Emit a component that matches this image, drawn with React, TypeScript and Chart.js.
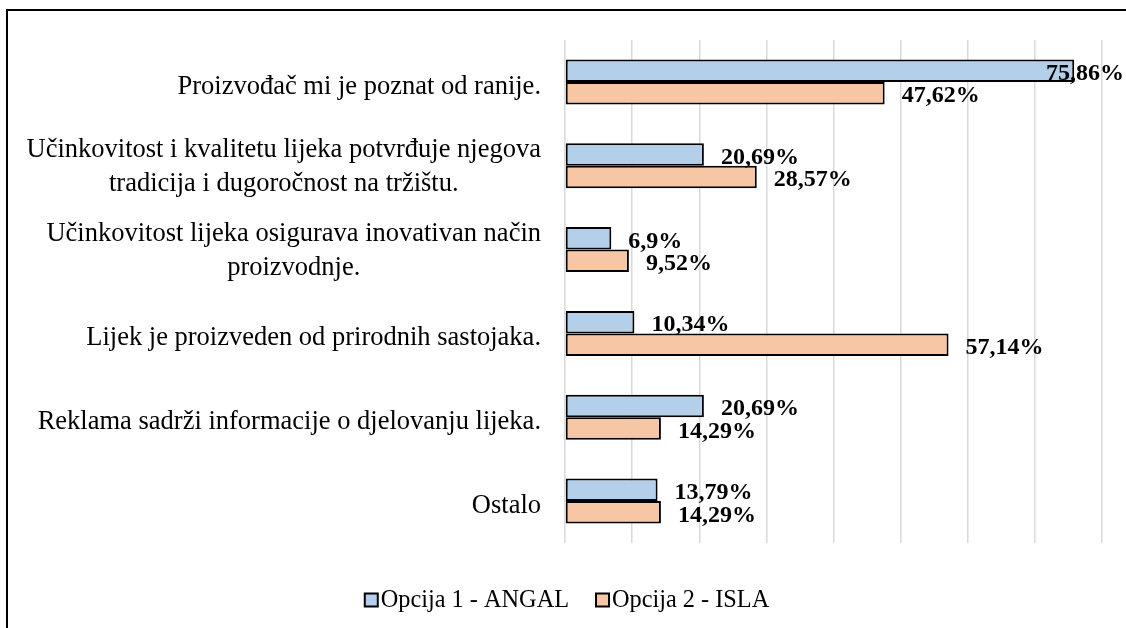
import React, { useEffect, useRef } from "react";
import { Chart, registerables } from "chart.js";

Chart.register(...registerables);

const categories: string[][] = [
  ["Proizvođač mi je poznat od ranije."],
  ["Učinkovitost i kvalitetu lijeka potvrđuje njegova", "tradicija i dugoročnost na tržištu."],
  ["Učinkovitost lijeka osigurava inovativan način", "proizvodnje."],
  ["Lijek je proizveden od prirodnih sastojaka."],
  ["Reklama sadrži informacije o djelovanju lijeka."],
  ["Ostalo"],
];
const seriesNames = ["Opcija 1 - ANGAL", "Opcija 2 - ISLA"];
const angalValues = [75.86, 20.69, 6.9, 10.34, 20.69, 13.79];
const islaValues = [47.62, 28.57, 9.52, 57.14, 14.29, 14.29];
const colors = ["#b4cfe9", "#f7c6a4"];

const FONT = "'Liberation Serif', 'Times New Roman', serif";

const fmt = (v: number) => String(v).replace(".", ",") + "%";

const catLabelPlugin = {
  id: "catLabels",
  afterDraw(chart: any) {
    const { ctx, chartArea } = chart;
    const y = chart.scales.y;
    ctx.save();
    ctx.font = `26.5px ${FONT}`;
    ctx.fillStyle = "#000";
    ctx.textBaseline = "middle";
    ctx.textAlign = "center";
    const lh = 34;
    categories.forEach((lines, i) => {
      const cy = y.getPixelForValue(i) + (lines.length > 1 ? 1 : 5);
      const maxW = Math.max(...lines.map((l) => ctx.measureText(l).width));
      const right = chartArea.left - 24;
      const cx = right - maxW / 2;
      lines.forEach((l, k) => {
        const ly = cy - ((lines.length - 1) * lh) / 2 + k * lh;
        ctx.fillText(l, cx, ly);
      });
    });
    ctx.restore();
  },
};

const dataLabelPlugin = {
  id: "dataLabels",
  afterDatasetsDraw(chart: any) {
    const { ctx } = chart;
    ctx.save();
    ctx.font = `bold 24px ${FONT}`;
    ctx.fillStyle = "#000";
    ctx.textBaseline = "middle";
    ctx.textAlign = "left";
    chart.data.datasets.forEach((ds: any, di: number) => {
      const meta = chart.getDatasetMeta(di);
      meta.data.forEach((bar: any, i: number) => {
        const t = fmt(ds.data[i]);
        const w = ctx.measureText(t).width;
        let x = bar.x + 17;
        if (x + w > chart.width - 2) x = chart.width - 2 - w;
        ctx.fillText(t, x, bar.y + 3);
      });
    });
    ctx.restore();
  },
};

const legendPlugin = {
  id: "customLegend",
  afterDraw(chart: any) {
    const { ctx } = chart;
    ctx.save();
    ctx.font = `24.3px ${FONT}`;
    ctx.textBaseline = "middle";
    ctx.textAlign = "left";
    const box = 13;
    const gap = 3;
    const itemGap = 27;
    const widths = seriesNames.map((n) => box + gap + ctx.measureText(n).width);
    const total = widths.reduce((a, b) => a + b, 0) + itemGap * (seriesNames.length - 1);
    let x = (chart.width - total) / 2 + 4;
    const cy = 600;
    seriesNames.forEach((n, i) => {
      ctx.fillStyle = colors[i];
      ctx.fillRect(x, cy - box / 2, box, box);
      ctx.strokeStyle = "#000";
      ctx.lineWidth = 2;
      ctx.strokeRect(x, cy - box / 2, box, box);
      ctx.fillStyle = "#000";
      ctx.fillText(n, x + box + gap, cy + 1);
      x += widths[i] + itemGap;
    });
    ctx.restore();
  },
};

export default function App() {
  const ref = useRef<HTMLCanvasElement | null>(null);
  useEffect(() => {
    if (!ref.current) return;
    const chart = new Chart(ref.current, {
      type: "bar",
      data: {
        labels: categories.map((c) => c.join(" ")),
        datasets: [
          {
            label: seriesNames[0],
            data: angalValues,
            backgroundColor: colors[0],
            borderColor: "#000",
            borderWidth: 2,
            borderSkipped: false,
          },
          {
            label: seriesNames[1],
            data: islaValues,
            backgroundColor: colors[1],
            borderColor: "#000",
            borderWidth: 2,
            borderSkipped: false,
          },
        ],
      },
      options: {
        indexAxis: "y",
        animation: false,
        responsive: false,
        devicePixelRatio: 1,
        datasets: { bar: { barPercentage: 1, categoryPercentage: 0.537 } },
        layout: { padding: { left: 565, right: 24, top: 40, bottom: 85 } },
        plugins: { legend: { display: false }, tooltip: { enabled: false } },
        scales: {
          x: {
            min: 0,
            max: 80,
            ticks: { display: false, stepSize: 10 },
            grid: { color: "#d9d9d9", lineWidth: 1.5, drawTicks: false },
            border: { display: false },
            afterFit: (s: any) => {
              s.height = 0;
            },
          },
          y: {
            display: false,
          },
        },
      },
      plugins: [catLabelPlugin, dataLabelPlugin, legendPlugin],
    });
    return () => chart.destroy();
  }, []);
  return (
    <div style={{ position: "absolute", left: 0, top: 0, width: 1126, height: 628, overflow: "hidden", background: "#fff" }}>
      <canvas ref={ref} width={1126} height={628} style={{ position: "absolute", left: 0, top: 0 }} />
      <div
        style={{
          position: "absolute",
          left: 6,
          top: 9,
          width: 1300,
          height: 800,
          borderLeft: "2px solid #000",
          borderTop: "2px solid #000",
          pointerEvents: "none",
        }}
      />
    </div>
  );
}
